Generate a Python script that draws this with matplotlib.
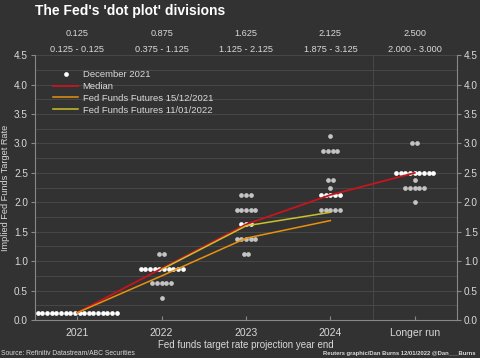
import numpy as np
import matplotlib.pyplot as plt

plt.rcParams['font.family'] = ['Liberation Sans', 'DejaVu Sans']

categories = ["2021", "2022", "2023", "2024", "Longer run"]
medians = [0.125, 0.875, 1.625, 2.125, 2.500]
ranges = ["0.125 - 0.125", "0.375 - 1.125", "1.125 - 2.125", "1.875 - 3.125", "2.000 - 3.000"]

# December 2021 dot plot: rate levels and number of dots at each level
levels_2021 = [0.125]
counts_2021 = [18]
levels_2022 = [0.375, 0.625, 0.875, 1.125]
counts_2022 = [1, 5, 10, 2]
levels_2023 = [1.125, 1.375, 1.625, 1.875, 2.125]
counts_2023 = [2, 5, 3, 5, 3]
levels_2024 = [1.875, 2.125, 2.25, 2.375, 2.875, 3.125]
counts_2024 = [5, 5, 1, 2, 4, 1]
levels_lr = [2.0, 2.25, 2.375, 2.5, 3.0]
counts_lr = [1, 5, 1, 9, 2]

futures_1512 = [0.125, 0.75, 1.39, 1.69, np.nan]
futures_1101 = [np.nan, 0.86, 1.60, 1.83, np.nan]

bg = "#323232"
grid_c = "#484848"
txt = "#d9d9d9"

fig = plt.figure(figsize=(4.8, 3.58), dpi=100, facecolor=bg)
ax = fig.add_axes([0.073, 0.106, 0.879, 0.74], facecolor=bg)

x = np.arange(len(categories))
spacing = 0.055
all_levels = [levels_2021, levels_2022, levels_2023, levels_2024, levels_lr]
all_counts = [counts_2021, counts_2022, counts_2023, counts_2024, counts_lr]
first = True
for i in range(len(categories)):
    for lv, n in zip(all_levels[i], all_counts[i]):
        offs = (np.arange(n) - (n - 1) / 2) * spacing
        col = "#ffffff" if lv == medians[i] else "#c4c4c4"
        ax.plot(x[i] + offs, [lv] * n, "o", ms=3.4, mec="none", color=col, zorder=3,
                label="December 2021" if first else None)
        first = False

ax.plot(x, medians, color="#c8141e", lw=1.3, label="Median", zorder=4)
ax.plot(x, futures_1512, color="#e8920e", lw=1.1, label="Fed Funds Futures 15/12/2021", zorder=4)
ax.plot(x, futures_1101, color="#c9c22a", lw=1.1, label="Fed Funds Futures 11/01/2022", zorder=4)

ax.set_xlim(-0.5, 4.5)
ax.set_ylim(0, 4.5)
ax.set_yticks(np.arange(0, 4.51, 0.5))
ax.set_yticks(np.arange(0.25, 4.5, 0.5), minor=True)
ax.grid(True, axis="y", which="both", color=grid_c, lw=0.7)
ax.axvline(3.5, color=grid_c, lw=0.7)
ax.set_axisbelow(True)

ax.set_xticks(x)
ax.set_xticklabels(categories)
ax.tick_params(axis="x", direction="in", length=3, colors="#888888", labelcolor=txt, labelsize=7.5, pad=6)
ax.tick_params(axis="y", which="major", direction="out", length=3, pad=2, colors="#888888", labelcolor=txt,
               labelsize=7.2, left=True, right=True, labelleft=True, labelright=True)
ax.tick_params(axis="y", which="minor", length=0)
ax.spines["top"].set_visible(False)
for s in ["left", "right", "bottom"]:
    ax.spines[s].set_color("#888888")
    ax.spines[s].set_linewidth(0.8)

ax.set_ylabel("Implied Fed Funds Target Rate", color=txt, fontsize=6.6)
ax.yaxis.set_label_coords(-0.06, 0.5)
ax.set_xlabel("Fed funds target rate projection year end", color=txt, fontsize=7, labelpad=1)

for i in range(len(categories)):
    ax.text(x[i], 1.083, f"{medians[i]:.3f}", transform=ax.get_xaxis_transform(),
            ha="center", va="center", color=txt, fontsize=6.6)
    ax.text(x[i], 1.023, ranges[i], transform=ax.get_xaxis_transform(),
            ha="center", va="center", color=txt, fontsize=6.6)

leg = ax.legend(loc="upper left", bbox_to_anchor=(0.03, 0.965), frameon=False, fontsize=6.8,
                handlelength=2.6, handletextpad=0.5, labelspacing=0.3, borderaxespad=0.2)
for t in leg.get_texts():
    t.set_color(txt)

fig.text(0.073, 0.968, "The Fed's 'dot plot' divisions", color="white", fontsize=10,
         fontweight="bold", ha="left", va="center")
fig.text(0.002, 0.012, "Source: Refinitiv Datastream/ABC Securities", color=txt, fontsize=4.9,
         ha="left", va="center")
fig.text(0.99, 0.012, "Reuters graphic/Dan Burns 12/01/2022 @Dan___Burns", color=txt, fontsize=4.2,
         fontweight="bold", ha="right", va="center")

fig.savefig("out.png", dpi=100, facecolor=bg)
